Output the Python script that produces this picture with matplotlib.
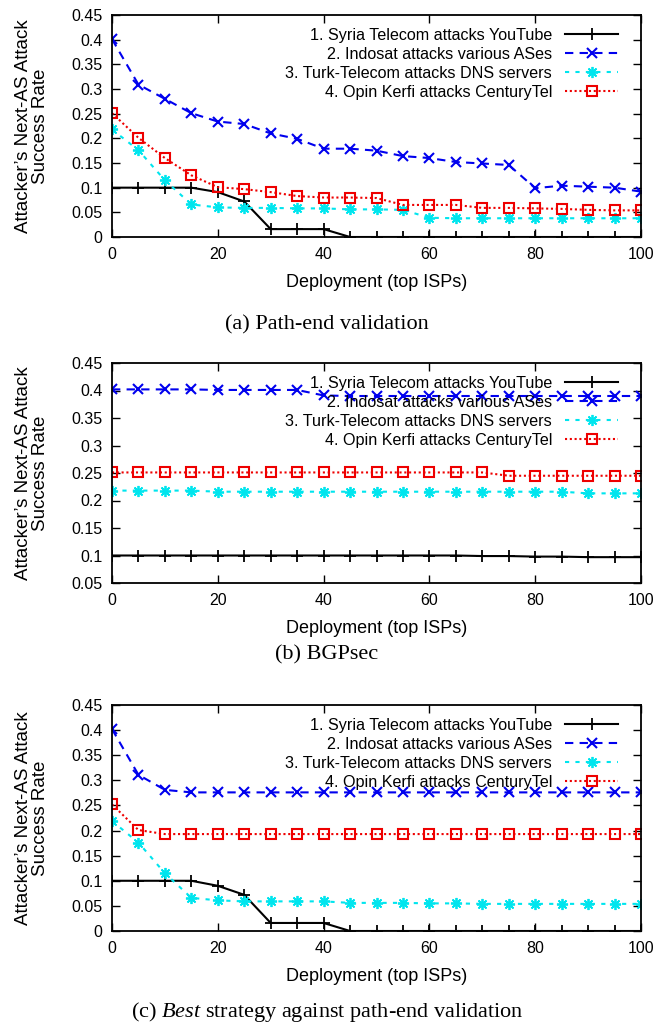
import matplotlib
matplotlib.use("Agg")
import matplotlib.pyplot as plt
from matplotlib.ticker import FuncFormatter, MultipleLocator

plt.rcParams["font.family"] = ["Liberation Sans", "DejaVu Sans"]
plt.rcParams["mathtext.fontset"] = "custom"
plt.rcParams["mathtext.rm"] = "Liberation Serif"
plt.rcParams["mathtext.it"] = "Liberation Serif:italic"

# deployment (top ISPs)
deployment = list(range(0, 101, 5))

labels = [
    "1. Syria Telecom attacks YouTube",
    "2. Indosat attacks various ASes",
    "3. Turk-Telecom attacks DNS servers",
    "4. Opin Kerfi attacks CenturyTel",
]

# (a) path-end validation
pe_syria = [0.1, 0.1, 0.1, 0.1, 0.091, 0.072, 0.016, 0.016, 0.016, 0, 0,
            0, 0, 0, 0, 0, 0, 0, 0, 0, 0]
pe_indosat = [0.401, 0.309, 0.280, 0.251, 0.234, 0.229, 0.210, 0.199, 0.179, 0.179, 0.175,
              0.164, 0.160, 0.152, 0.149, 0.146, 0.099, 0.104, 0.102, 0.100, 0.092]
pe_turk = [0.218, 0.176, 0.115, 0.066, 0.060, 0.059, 0.059, 0.058, 0.058, 0.056, 0.056,
           0.055, 0.039, 0.038, 0.038, 0.038, 0.038, 0.038, 0.038, 0.038, 0.038]
pe_opin = [0.251, 0.201, 0.160, 0.125, 0.101, 0.097, 0.091, 0.083, 0.080, 0.080, 0.079,
           0.065, 0.065, 0.065, 0.059, 0.059, 0.058, 0.057, 0.055, 0.054, 0.054]

# (b) BGPsec
bs_syria = [0.1, 0.1, 0.1, 0.1, 0.1, 0.1, 0.1, 0.1, 0.1, 0.1, 0.1,
            0.1, 0.1, 0.1, 0.099, 0.099, 0.098, 0.098, 0.097, 0.097, 0.097]
bs_indosat = [0.402, 0.402, 0.402, 0.402, 0.401, 0.401, 0.401, 0.401, 0.391, 0.390, 0.390,
              0.390, 0.390, 0.390, 0.390, 0.390, 0.390, 0.390, 0.390, 0.390, 0.390]
bs_turk = [0.218, 0.218, 0.218, 0.218, 0.216, 0.216, 0.216, 0.216, 0.216, 0.216, 0.216,
           0.216, 0.216, 0.216, 0.216, 0.216, 0.216, 0.216, 0.213, 0.213, 0.213]
bs_opin = [0.251, 0.251, 0.251, 0.251, 0.251, 0.251, 0.251, 0.251, 0.251, 0.251, 0.251,
           0.251, 0.251, 0.251, 0.251, 0.245, 0.245, 0.245, 0.245, 0.245, 0.245]

# (c) best strategy against path-end validation
best_syria = [0.1, 0.1, 0.1, 0.1, 0.09, 0.072, 0.016, 0.016, 0.016, 0, 0,
              0, 0, 0, 0, 0, 0, 0, 0, 0, 0]
best_indosat = [0.402, 0.311, 0.281, 0.276, 0.276, 0.276, 0.276, 0.276, 0.276, 0.276, 0.276,
                0.276, 0.276, 0.276, 0.276, 0.276, 0.276, 0.276, 0.276, 0.276, 0.276]
best_turk = [0.219, 0.176, 0.115, 0.066, 0.061, 0.059, 0.059, 0.059, 0.059, 0.056, 0.056,
             0.056, 0.055, 0.055, 0.054, 0.054, 0.054, 0.054, 0.054, 0.054, 0.054]
best_opin = [0.252, 0.201, 0.193, 0.193, 0.193, 0.193, 0.193, 0.193, 0.193, 0.193, 0.193,
             0.193, 0.193, 0.193, 0.193, 0.193, 0.193, 0.193, 0.193, 0.193, 0.193]

STYLES = [
    dict(color="black", linestyle="-", marker="+", markersize=8, markeredgewidth=1.3),
    dict(color="#0000ee", linestyle=(0, (4, 3)), marker="x", markersize=7, markeredgewidth=1.5),
    dict(color="#00e5ee", linestyle=(0, (2, 3)), marker=(8, 2, 0), markersize=8, markeredgewidth=1.3),
    dict(color="#ee0000", linestyle=(0, (1, 1.3)), marker="s", markersize=7, markeredgewidth=1.5,
         markerfacecolor="none"),
]

W, H = 654, 1030


def add_panel(top, bottom, series, ylim, yticks, caption, cap_off):
    ax = plt.gcf().add_axes([112 / W, 1 - bottom / H, (641 - 112) / W, (bottom - top) / H])
    for vals, lab, st in zip(series, labels, STYLES):
        ax.plot(deployment, vals, label=lab, linewidth=1.5, **st)
    ax.set_xlim(0, 100)
    ax.set_ylim(*ylim)
    ax.xaxis.set_major_locator(MultipleLocator(20))
    ax.set_yticks(yticks)
    ax.yaxis.set_major_formatter(FuncFormatter(lambda v, p: f"{v:g}"))
    ax.tick_params(direction="in", length=6, width=1, top=True, right=True, labelsize=11.5, pad=7)
    for sp in ax.spines.values():
        sp.set_linewidth(1.3)
    ax.set_xlabel("Deployment (top ISPs)", fontsize=13, labelpad=9)
    ax.set_ylabel("Attacker\u2019s Next-AS Attack\nSuccess Rate", fontsize=13.5, labelpad=16,
                  linespacing=1.0)
    ax.legend(loc="upper right", bbox_to_anchor=(0.972, 0.978), frameon=False, markerfirst=False,
              numpoints=1, handlelength=3.3, handletextpad=0.8, labelspacing=0.25,
              fontsize=11.6, borderpad=0)
    plt.gcf().text(0.5, 1 - (bottom + cap_off) / H, caption, ha="center", va="center",
                   fontsize=16, family="Liberation Serif")
    return ax


fig = plt.figure(figsize=(W / 100, H / 100), dpi=100)

add_panel(15, 237, [pe_syria, pe_indosat, pe_turk, pe_opin], (0, 0.45),
          [i * 0.05 for i in range(10)], "(a) Path-end validation", 88)
add_panel(363, 583, [bs_syria, bs_indosat, bs_turk, bs_opin], (0.05, 0.45),
          [0.05 + i * 0.05 for i in range(9)], "(b) BGPsec", 72)
add_panel(705, 931, [best_syria, best_indosat, best_turk, best_opin], (0, 0.45),
          [i * 0.05 for i in range(10)],
          r"(c) $\mathit{Best}$ strategy against path-end validation", 81)

fig.savefig("out.png", dpi=100)
